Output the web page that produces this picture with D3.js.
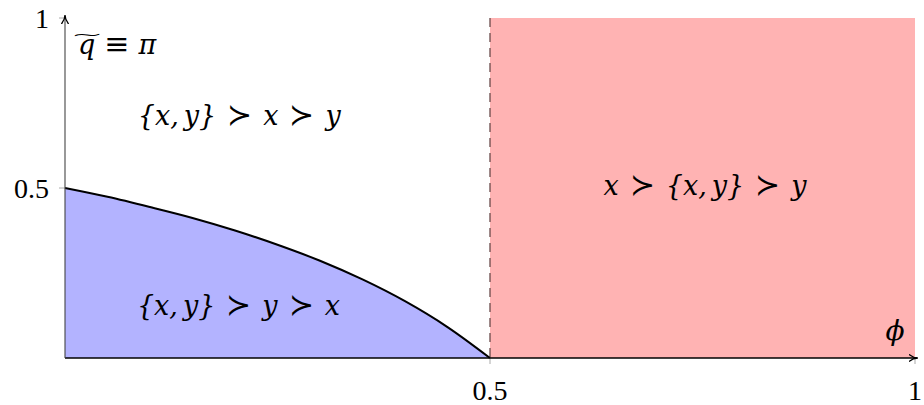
<!DOCTYPE html>
<html>
<head>
<meta charset="utf-8">
<script src="https://cdn.jsdelivr.net/npm/d3@7"></script>
<style>
  body { margin: 0; background: #fff; }
  svg text { font-family: 'Liberation Serif', 'DejaVu Serif', serif; fill: #000; }
  .math { font-family: 'DejaVu Serif', serif; font-style: italic; }
  .rel { font-family: 'DejaVu Sans', sans-serif; font-style: normal; font-weight: 200; }
  .eq { font-family: 'DejaVu Serif', serif; font-style: normal; }
</style>
</head>
<body>
<div id="chart"></div>
<script>
// boundary curve q~(phi)
const phiValues = [0, 0.05, 0.1, 0.15, 0.2, 0.25, 0.3, 0.35, 0.4, 0.45, 0.5]
const qValues = [0.5, 0.474, 0.444, 0.412, 0.375, 0.333, 0.286, 0.231, 0.167, 0.091, 0]
const xTicks = [0.5, 1]
const yTicks = [0.5, 1]
const redRegion = [0.5, 1]
// each label is a list of pieces: [text, isRelation, extra gap]
const regionLabels = [
  {parts: [['{x,', 0], ['y}', 0, 5], ['\u227B', 1], ['x', 0], ['\u227B', 1], ['y', 0]], x: 0.205, y: 0.685},
  {parts: [['x', 0], ['\u227B', 1], ['{x,', 0], ['y}', 0, 5], ['\u227B', 1], ['y', 0]], x: 0.753, y: 0.48},
  {parts: [['{x,', 0], ['y}', 0, 5], ['\u227B', 1], ['y', 0], ['\u227B', 1], ['x', 0]], x: 0.204, y: 0.127},
]

const width = 924, height = 405
const margin = {top: 18, right: 9, bottom: 47, left: 65}

const xScale = d3.scaleLinear().domain([0, 1]).range([margin.left, width - margin.right])
const yScale = d3.scaleLinear().domain([0, 1]).range([height - margin.bottom, margin.top])

const svg = d3.select('#chart').append('svg')
  .attr('width', width).attr('height', height)

const curve = phiValues.map((p, i) => ({x: p, y: qValues[i]}))

// blue region under the curve
svg.append('path')
  .datum(curve)
  .attr('fill', '#b3b3ff')
  .attr('d', d3.area().x(d => xScale(d.x)).y0(yScale(0)).y1(d => yScale(d.y)).curve(d3.curveMonotoneX))

// red region
svg.append('rect')
  .attr('x', xScale(redRegion[0])).attr('y', yScale(1))
  .attr('width', xScale(redRegion[1]) - xScale(redRegion[0]))
  .attr('height', yScale(0) - yScale(1))
  .attr('fill', '#ffb3b3')

// dashed divider
svg.append('line')
  .attr('x1', xScale(0.5)).attr('x2', xScale(0.5))
  .attr('y1', yScale(1)).attr('y2', yScale(0))
  .attr('stroke', '#6a4a4a').attr('stroke-width', 1.3)
  .attr('stroke-dasharray', '9,6')

// curve
svg.append('path')
  .datum(curve)
  .attr('fill', 'none').attr('stroke', '#000').attr('stroke-width', 2)
  .attr('d', d3.line().x(d => xScale(d.x)).y(d => yScale(d.y)).curve(d3.curveMonotoneX))

// ticks
svg.selectAll('.ytick').data(yTicks).enter().append('line')
  .attr('x1', xScale(0) - 6).attr('x2', xScale(0))
  .attr('y1', d => yScale(d)).attr('y2', d => yScale(d))
  .attr('stroke', '#aaa').attr('stroke-width', 1)
svg.selectAll('.xtick').data(xTicks).enter().append('line')
  .attr('x1', d => xScale(d)).attr('x2', d => xScale(d))
  .attr('y1', yScale(0)).attr('y2', yScale(0) + 6)
  .attr('stroke', '#aaa').attr('stroke-width', 1)

// axes with arrows
const defs = svg.append('defs')
defs.append('marker')
  .attr('id', 'arrow').attr('viewBox', '0 0 10 10')
  .attr('refX', 9).attr('refY', 5)
  .attr('markerWidth', 9).attr('markerHeight', 9)
  .attr('markerUnits', 'userSpaceOnUse')
  .attr('orient', 'auto')
  .append('path').attr('d', 'M0,1 Q5,5 10,5 Q5,5 0,9').attr('fill', 'none')
  .attr('stroke', '#000').attr('stroke-width', 1.4)

svg.append('line')
  .attr('x1', xScale(0)).attr('x2', xScale(1) + 2)
  .attr('y1', yScale(0)).attr('y2', yScale(0))
  .attr('stroke', '#000').attr('stroke-width', 1.3)
  .attr('marker-end', 'url(#arrow)')
svg.append('line')
  .attr('x1', xScale(0)).attr('x2', xScale(0))
  .attr('y1', yScale(0)).attr('y2', yScale(1) - 2)
  .attr('stroke', '#444').attr('stroke-width', 1.1)
  .attr('marker-end', 'url(#arrow)')

// tick labels
svg.selectAll('.ylab').data(yTicks).enter().append('text')
  .attr('x', xScale(0) - 16).attr('y', d => yScale(d) + 10)
  .attr('text-anchor', 'end').attr('font-size', 28)
  .text(d => d === 1 ? '1' : d)
svg.selectAll('.xlab').data(xTicks).enter().append('text')
  .attr('x', d => xScale(d)).attr('y', yScale(0) + 42)
  .attr('text-anchor', 'middle').attr('font-size', 28)
  .text(d => d === 1 ? '1' : d)

// axis labels
const yl = svg.append('text').attr('class', 'math')
  .attr('x', xScale(0) + 13).attr('y', yScale(1) + 36).attr('font-size', 27)
yl.append('tspan').text('q')
yl.append('tspan').attr('class', 'eq').attr('font-size', 30).attr('dx', 9).text('\u2261')
yl.append('tspan').attr('dx', 9).text('\u03C0')
// wide tilde over q
svg.append('text')
  .attr('class', 'rel')
  .attr('text-anchor', 'middle').attr('font-size', 26)
  .attr('transform', `translate(${xScale(0) + 22},${yScale(1) + 24}) scale(1.5,0.8)`)
  .text('~')

svg.append('text').attr('class', 'math')
  .attr('x', xScale(1) - 20).attr('y', yScale(0) - 18)
  .attr('text-anchor', 'middle').attr('font-size', 28)
  .text('\u03D5')

// region labels
regionLabels.forEach(lab => {
  const t = svg.append('text').attr('class', 'math')
    .attr('x', xScale(lab.x)).attr('y', yScale(lab.y))
    .attr('text-anchor', 'middle').attr('font-size', 27)
  lab.parts.forEach((p, i) => {
    t.append('tspan')
      .attr('class', p[1] ? 'rel' : 'math')
      .attr('font-size', p[1] ? 30 : 27)
      .attr('dx', i === 0 ? 0 : (p[2] || (p[1] || lab.parts[i - 1][1] ? 11 : 0)))
      .text(p[0])
  })
})
</script>
</body>
</html>
